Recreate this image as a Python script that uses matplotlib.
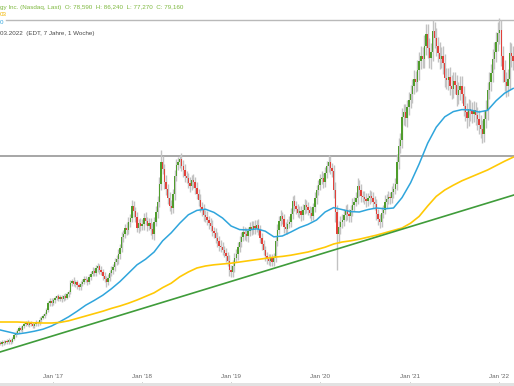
import matplotlib
matplotlib.use("Agg")
import matplotlib.pyplot as plt
import matplotlib.dates as mdates
from matplotlib.patches import Rectangle
import numpy as np

# ---------------- data (weekly candles) ----------------
first_week = "2016-05-30"
first_open = 14.3

closes = [
    14.0, 14.6, 14.2, 14.8, 14.5, 15.0, 14.6, 15.3, 16.2, 16.8,
    17.3, 18.0, 17.6, 18.4, 19.0, 19.4, 18.8, 19.3, 19.0, 18.6,
    18.9, 19.5, 19.2, 20.1, 20.6, 21.0, 21.6, 22.4, 24.3, 24.8,
    24.2, 25.0, 25.4, 25.9, 25.3, 25.7, 25.2, 26.0, 25.6, 26.4,
    27.0, 29.3, 29.8, 29.0, 29.4, 28.7, 28.2, 28.9, 29.6, 30.2,
    30.0, 29.6, 30.8, 31.6, 32.3, 31.8, 32.9, 33.4, 32.6, 32.0,
    31.0, 30.2, 29.4, 30.6, 31.8, 32.5, 33.2, 34.6, 35.2, 36.5,
    38.0, 40.8, 41.5, 43.0, 42.4, 44.6, 45.5, 48.6, 47.2, 45.8,
    43.0, 44.2, 43.4, 44.0, 45.6, 44.8, 43.6, 44.3, 42.8, 41.5,
    44.6, 47.0, 49.5, 54.0, 59.5, 57.8, 54.6, 52.8, 50.5, 48.6,
    48.0, 51.5, 56.0, 58.8, 59.6, 60.2, 58.6, 57.4, 56.0, 55.4,
    54.2, 53.6, 55.0, 54.4, 53.0, 51.5, 50.0, 48.2, 47.4, 46.3,
    45.8, 45.0, 44.2, 43.6, 42.2, 41.8, 40.5, 39.8, 38.6, 38.2,
    37.6, 36.8, 36.0, 34.8, 32.6, 32.0, 33.5, 35.6, 36.4, 38.2,
    39.6, 40.8, 42.0, 41.4, 41.0, 42.2, 43.2, 42.6, 43.6, 43.0,
    43.8, 42.6, 40.5, 39.0, 37.4, 36.0, 35.2, 34.8, 35.4, 34.6,
    35.6, 39.8, 42.6, 44.8, 46.0, 45.2, 43.2, 42.8, 44.0, 44.6,
    46.5, 49.8, 48.6, 47.8, 46.8, 47.2, 46.2, 47.6, 48.8, 48.2,
    47.4, 46.8, 46.0, 48.2, 50.4, 52.6, 53.8, 55.2, 55.6, 54.6,
    56.8, 58.4, 59.6, 58.0, 57.2, 52.4, 47.0, 41.5, 43.2, 44.6,
    45.0, 46.2, 47.6, 46.4, 46.0, 47.4, 48.8, 49.6, 50.4, 53.6,
    52.4, 51.0, 50.8, 50.2, 49.8, 50.4, 51.0, 50.6, 49.6, 49.0,
    46.4, 45.2, 44.6, 46.8, 47.6, 49.6, 50.2, 50.8, 50.4, 52.0,
    52.8, 54.0, 59.6, 63.5, 65.0, 70.8, 72.0, 70.4, 73.2, 75.0,
    76.6, 78.4, 80.2, 79.4, 82.6, 84.8, 86.0, 85.2, 88.6, 91.6,
    88.0, 85.4, 87.0, 92.2, 90.4, 88.6, 86.8, 85.2, 86.0, 84.2,
    80.6, 80.0, 80.8, 78.6, 77.8, 79.8, 78.8, 76.2, 77.4, 78.6,
    76.4, 73.6, 72.0, 70.6, 72.8, 72.2, 71.6, 72.4, 71.2, 70.2,
    68.8, 67.8, 66.6, 70.2, 72.6, 77.4, 79.6, 81.8, 85.2, 87.0,
    89.6, 91.8, 92.4, 86.0, 82.4, 79.6, 78.4, 80.2, 86.8, 86.0, 84.8,
]

wick_up = [
    0.4, 0.3, 0.5, 0.3, 0.4, 0.6, 0.3, 0.4, 0.5, 0.4,
    0.5, 0.4, 0.6, 0.3, 0.5, 0.4, 0.6, 0.3, 0.5, 0.4,
    0.4, 0.5, 0.3, 0.6, 0.4, 0.5, 0.4, 0.7, 0.5, 0.6,
    0.8, 0.5, 0.6, 0.4, 0.7, 0.5, 0.6, 0.4, 0.7, 0.5,
    0.6, 0.8, 0.5, 0.9, 0.6, 0.7, 0.5, 0.8, 0.6, 0.7,
    0.9, 0.6, 0.8, 0.7, 1.0, 0.6, 0.8, 0.9, 0.7, 0.8,
    0.7, 1.0, 0.8, 0.9, 0.7, 1.1, 0.8, 0.9, 1.0, 1.2,
    1.0, 1.3, 1.1, 0.9, 1.4, 1.2, 1.0, 1.5, 1.2, 1.1,
    1.3, 1.0, 1.4, 1.2, 1.1, 1.5, 1.0, 1.3, 1.2, 1.4,
    1.2, 1.4, 1.6, 1.8, 3.0, 1.5, 1.3, 1.6, 1.2, 1.4,
    1.5, 1.3, 1.6, 1.4, 1.2, 1.0, 1.6, 1.3, 1.5, 1.2,
    1.4, 1.6, 1.2, 1.5, 1.3, 1.6, 1.2, 1.4, 1.3, 1.5,
    1.2, 1.4, 1.1, 1.3, 1.5, 1.0, 1.2, 1.4, 1.1, 1.3,
    1.2, 1.0, 1.3, 1.1, 1.4, 1.2, 1.5, 1.1, 1.3, 1.2,
    1.3, 1.1, 1.4, 1.2, 1.5, 1.1, 1.3, 1.6, 1.2, 1.4,
    1.2, 1.4, 1.1, 1.3, 1.0, 1.2, 1.1, 1.3, 1.0, 1.2,
    1.1, 1.3, 1.4, 1.2, 1.5, 1.1, 1.3, 1.4, 1.2, 1.3,
    1.4, 1.2, 1.5, 1.1, 1.3, 1.4, 1.2, 1.3, 1.5, 1.1,
    1.3, 1.2, 1.4, 1.1, 1.5, 1.2, 1.3, 1.4, 1.6, 1.2,
    1.5, 1.3, 1.6, 1.4, 1.2, 1.5, 2.0, 1.8, 1.6, 1.4,
    1.4, 1.6, 1.2, 1.5, 1.3, 1.4, 1.6, 1.2, 1.5, 1.8,
    1.3, 1.5, 1.2, 1.4, 1.6, 1.3, 1.5, 1.2, 1.4, 1.3,
    1.2, 1.4, 1.3, 1.5, 1.2, 1.6, 1.3, 1.4, 1.2, 1.5,
    1.4, 1.6, 1.8, 2.0, 1.7, 2.2, 1.9, 2.1, 1.8, 2.0,
    2.2, 1.9, 2.4, 2.0, 2.3, 2.1, 2.5, 2.2, 2.6, 2.4,
    2.3, 2.6, 2.2, 2.8, 2.4, 2.5, 2.2, 2.6, 2.3, 2.5,
    2.2, 2.5, 2.1, 2.4, 2.6, 2.2, 2.3, 2.5, 2.1, 2.4,
    2.3, 2.1, 2.4, 2.2, 2.5, 2.1, 2.3, 2.4, 2.2, 2.0,
    2.2, 2.4, 2.1, 2.3, 2.5, 2.2, 2.4, 2.3, 2.6, 2.4,
    2.5, 2.8, 3.0, 2.6, 2.4, 2.7, 2.3, 2.5, 2.6, 2.4, 2.5,
]

wick_dn = [
    0.3, 0.5, 0.4, 0.3, 0.5, 0.4, 0.6, 0.3, 0.4, 0.5,
    0.4, 0.5, 0.3, 0.6, 0.4, 0.5, 0.3, 0.5, 0.4, 0.6,
    0.5, 0.4, 0.6, 0.4, 0.5, 0.3, 0.6, 0.4, 0.5, 0.7,
    0.6, 0.5, 0.7, 0.4, 0.6, 0.5, 0.7, 0.5, 0.6, 0.4,
    0.7, 0.5, 0.8, 0.6, 0.7, 0.9, 0.6, 0.8, 0.5, 0.7,
    0.6, 0.9, 0.7, 0.8, 0.6, 0.9, 0.7, 0.8, 1.0, 0.7,
    0.9, 0.8, 1.1, 0.7, 0.9, 0.8, 1.0, 0.9, 0.8, 1.1,
    1.2, 1.0, 1.3, 1.1, 1.2, 0.9, 1.3, 1.1, 1.4, 1.2,
    1.1, 1.3, 1.2, 1.0, 1.4, 1.1, 1.3, 1.2, 1.5, 1.3,
    1.4, 1.2, 1.5, 1.3, 1.6, 1.4, 1.8, 1.5, 1.6, 1.4,
    1.5, 1.3, 1.6, 1.2, 1.4, 1.5, 1.3, 1.6, 1.4, 1.2,
    1.3, 1.5, 1.2, 1.4, 1.6, 1.3, 1.5, 1.2, 1.4, 1.6,
    1.4, 1.2, 1.5, 1.3, 1.1, 1.4, 1.2, 1.5, 1.3, 1.2,
    1.3, 1.1, 1.4, 1.2, 1.5, 1.3, 1.2, 1.4, 1.1, 1.3,
    1.2, 1.4, 1.1, 1.3, 1.2, 1.4, 1.1, 1.3, 1.2, 1.4,
    1.1, 1.3, 1.2, 1.4, 1.1, 1.3, 1.2, 1.0, 1.2, 1.1,
    1.2, 1.1, 1.3, 1.2, 1.4, 1.3, 1.5, 1.2, 1.3, 1.1,
    1.3, 1.2, 1.4, 1.3, 1.1, 1.2, 1.4, 1.3, 1.2, 1.4,
    1.2, 1.4, 1.3, 1.1, 1.2, 1.3, 1.4, 1.2, 1.3, 1.5,
    1.4, 1.2, 1.3, 1.6, 1.5, 1.8, 2.6, 9.0, 2.2, 1.8,
    1.6, 1.4, 1.5, 1.3, 1.6, 1.4, 1.3, 1.5, 1.2, 1.4,
    1.3, 1.5, 1.4, 1.2, 1.5, 1.3, 1.4, 1.2, 1.5, 1.6,
    1.5, 1.4, 1.6, 1.3, 1.4, 1.2, 1.5, 1.3, 1.4, 1.2,
    1.5, 1.4, 1.6, 1.8, 1.7, 1.9, 2.0, 1.8, 2.1, 1.9,
    2.1, 2.3, 2.0, 2.4, 2.2, 2.5, 2.1, 2.3, 2.2, 2.4,
    2.5, 2.3, 2.6, 2.2, 2.4, 2.7, 2.3, 2.5, 2.2, 2.6,
    2.4, 2.2, 2.5, 2.3, 2.6, 2.2, 2.4, 2.7, 2.3, 2.5,
    2.2, 2.5, 2.3, 2.6, 2.2, 2.4, 2.3, 2.1, 2.4, 2.6,
    2.3, 2.2, 2.4, 2.1, 2.3, 2.5, 2.2, 2.4, 2.3, 2.5,
    2.6, 2.4, 2.7, 2.5, 2.8, 2.4, 2.6, 2.3, 2.5, 2.7, 2.4,
]

# moving averages, one value every 5th week
ma_step = 5
ma_fast = [
    17.5, 17.0, 16.5, 16.8, 17.2, 17.7, 18.5, 19.6, 20.8, 22.2,
    23.7, 24.9, 26.2, 27.8, 29.6, 31.7, 33.8, 35.2, 37.0, 39.8,
    41.8, 44.2, 46.3, 47.4, 47.7, 46.9, 45.5, 43.5, 42.6, 42.5,
    42.8, 42.2, 40.8, 41.0, 42.0, 43.1, 43.9, 45.0, 47.0, 48.1,
    47.6, 47.1, 47.0, 47.6, 48.0, 47.8, 48.0, 50.6, 54.3, 59.0,
    64.2, 68.2, 70.8, 72.1, 72.6, 72.5, 72.0, 72.4, 74.8, 76.7, 77.9,
]
ma_slow = [
    19.5, 19.5, 19.5, 19.4, 19.3, 19.25, 19.25, 19.4, 19.8, 20.4,
    21.0, 21.6, 22.2, 22.9, 23.5, 24.2, 25.0, 25.9, 26.8, 28.1,
    29.2, 30.8, 32.0, 33.0, 33.5, 33.8, 34.0, 34.2, 34.5, 34.8,
    35.1, 35.4, 35.7, 35.9, 36.2, 36.6, 37.0, 37.6, 38.2, 39.0,
    39.5, 39.8, 40.2, 40.7, 41.2, 41.8, 42.4, 43.0, 44.2, 45.9,
    48.5, 50.9, 52.5, 53.7, 54.8, 55.7, 56.6, 57.5, 58.6, 59.7, 60.7,
]

trend_dates = ["2016-05-29", "2022-03-03"]
trend_values = [12.0, 51.25]
level_top = 95.0
level_mid = 61.0

header_1 = "gy Inc. (Nasdaq, Last)  O: 78,590  H: 86,240  L: 77,270  C: 79,160"
header_2 = "03"
header_3 = "0"
header_4 = "03.2022  (EDT, 7 Jahre, 1 Woche)"

x_start = "2016-05-29"
x_end = "2022-03-03T10:00"

# ---------------- figure ----------------
W, H = 514, 386
fig = plt.figure(figsize=(W / 100, H / 100), dpi=100)
fig.patch.set_facecolor("white")
ax = fig.add_axes([0, 0, 1, 1])
ax.set_facecolor("white")

n = min(len(closes), len(wick_up), len(wick_dn))
c = np.array(closes[:n], dtype=float)
o = np.concatenate([[first_open], c[:-1]])
hi = np.maximum(o, c) + np.array(wick_up[:n])
lo = np.minimum(o, c) - np.array(wick_dn[:n])
dates = np.datetime64(first_week) + np.arange(n) * np.timedelta64(7, "D")

GREEN = "#4f9c2c"
RED = "#e2403a"
ax.vlines(dates, lo, hi, color="#c2c2c2", lw=1.0, zorder=2)
body = c - o
body = np.where(np.abs(body) < 0.3, np.where(body >= 0, 0.3, -0.3), body)
cols = np.where(c >= o, GREEN, RED)
ax.bar(dates, body, bottom=o, width=5.6, color=cols, linewidth=0, zorder=3)

ma_dates = dates[::ma_step]
m = min(len(ma_dates), len(ma_fast))
ax.plot(ma_dates[:m], ma_fast[:m], color="#2fa5dc", lw=1.1, zorder=4)
m2 = min(len(ma_dates), len(ma_slow))
ax.plot(ma_dates[:m2], ma_slow[:m2], color="#ffc905", lw=1.2, zorder=4)

ax.plot(np.array(trend_dates, dtype="datetime64[h]"), trend_values,
        color="#3f9c3a", lw=1.2, zorder=4)

ax.axhline(level_mid, color="#8e8e8e", lw=1.1, zorder=1)
ax.axhline(level_top, xmin=6 / W, color="#b9b9b9", lw=1.0, zorder=1)

ax.set_xlim(np.datetime64(x_start), np.datetime64(x_end))
ax.set_ylim(3.5, 100)

for s in ax.spines.values():
    s.set_visible(False)
ax.add_patch(Rectangle((0, 0), 1, 3 / H, transform=ax.transAxes,
                       facecolor="#e2e2e2", edgecolor="none", zorder=5))

ax.xaxis.set_major_locator(mdates.YearLocator())
ax.xaxis.set_major_formatter(mdates.DateFormatter("%b '%y"))
ax.tick_params(axis="x", direction="in", length=3, width=0.6, color="#9a9a9a",
               pad=-8.3, labelsize=4.5, labelcolor="#666666")
for lab in ax.get_xticklabels():
    lab.set_fontfamily("Liberation Sans")
ax.set_yticks([])

fs = 4.5
fam = "Liberation Sans"
fig.text(-0.5 / W, 1 - 7 / H, header_1, fontsize=fs, family=fam,
         color="#7db83e", va="center", ha="left")
fig.text(0, 1 - 14 / H, header_2, fontsize=fs, family=fam,
         color="#f2b600", va="center", ha="left")
fig.text(0, 1 - 23 / H, header_3, fontsize=fs, family=fam,
         color="#35a7dd", va="center", ha="left")
fig.text(0, 1 - 33 / H, header_4, fontsize=fs, family=fam,
         color="#4a4a4a", va="center", ha="left")

fig.savefig("out.png", dpi=100, facecolor="white")
